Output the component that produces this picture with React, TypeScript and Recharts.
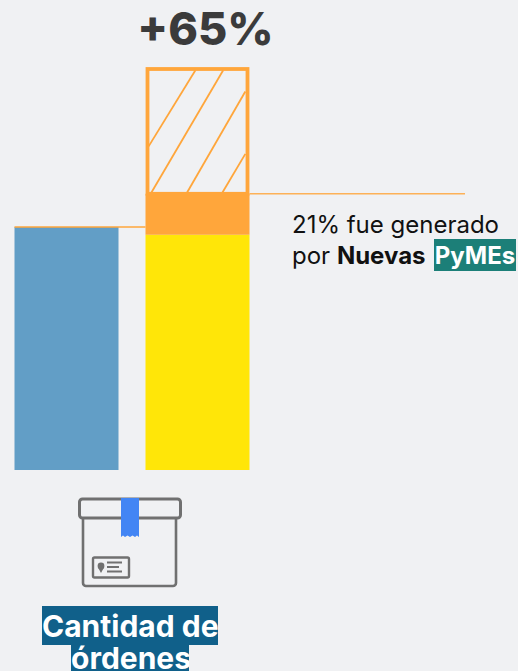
import { Bar, BarChart, LabelList, XAxis, YAxis } from "recharts"

const categories = ["Antes", "Después"]
const previousOrders = [100, null]
const currentOrders = [null, 96.75]
const newSmeOrders = [null, 16.9]
const remainingGrowth = [null, 51.35]
const growthLabels = [null, "+65%"]

const data = categories.map((name, i) => ({
  name,
  previous: previousOrders[i],
  current: currentOrders[i],
  newSme: newSmeOrders[i],
  growth: remainingGrowth[i],
  growthLabel: growthLabels[i],
}))

const BLUE = "#629EC6"
const YELLOW = "#FFE608"
const ORANGE = "#FFA63B"
const FONT = "Inter, 'Open Sans', sans-serif"

// diagonal strokes inside the hatched box, as fractions of its width and height
const hatchLines = [
  [0.03, 0.62, 0.48, 0.01],
  [0.05, 1, 0.747, 0.01],
  [0.4, 0.99, 0.96, 0.18],
  [0.74, 0.99, 0.96, 0.68],
]

function PreviousBar({ x, y, width, height }: any) {
  if (!(height > 0)) return null
  return (
    <g>
      <rect x={x} y={y} width={width} height={height} fill={BLUE} />
      <line x1={x} x2={x + 131} y1={y} y2={y} stroke={ORANGE} strokeWidth={1.5} />
    </g>
  )
}

function GrowthBar({ x, y, width, height }: any) {
  if (!(height > 0)) return null
  return (
    <g>
      {hatchLines.map(([x1, y1, x2, y2], i) => (
        <line
          key={i}
          x1={x + x1 * width}
          y1={y + y1 * height}
          x2={x + x2 * width}
          y2={y + y2 * height}
          stroke={ORANGE}
          strokeWidth={1.8}
        />
      ))}
      <rect x={x + 2} y={y} width={width - 4} height={height} fill="none" stroke={ORANGE} strokeWidth={3.8} />
      <line x1={x + width} x2={465} y1={y + height} y2={y + height} stroke={ORANGE} strokeOpacity={0.85} strokeWidth={1.5} />
    </g>
  )
}

function BoxIcon() {
  return (
    <svg
      width={110}
      height={96}
      viewBox="0 0 110 96"
      style={{ position: "absolute", left: 75, top: 495 }}
      fill="none"
      stroke="#707070"
    >
      <path d="M8 23 V88 a3 3 0 0 0 3 3 H98 a3 3 0 0 0 3 -3 V23" strokeWidth={2.6} />
      <rect x={4.5} y={4} width={101} height={19} rx={3} strokeWidth={3} />
      <path d="M46 3 H64 V42 l-2 -1.5 -2 1.5 -2.5 -1.5 -2.5 1.5 -2.5 -1.5 -2.5 1.5 -2 -1.5 -2 1.5 Z" fill="#4285F4" stroke="none" />
      <rect x={18} y={62.5} width={36} height={20} rx={1.5} strokeWidth={2.4} />
      <circle cx={26} cy={71} r={3.4} fill="#707070" stroke="none" />
      <path d="M23 72.5 L26 78 L29 72.5 Z" fill="#707070" stroke="none" />
      <path d="M32 67.5 H47 M32 72 H44 M32 76.5 H47" strokeWidth={1.9} />
    </svg>
  )
}

const boldLabel = {
  position: "absolute",
  color: "#fff",
  background: "#10608A",
  fontFamily: FONT,
  fontWeight: 700,
  fontSize: 30,
  textAlign: "center",
  overflow: "hidden",
  whiteSpace: "nowrap",
} as const

const noteLine = {
  position: "absolute",
  left: 292,
  fontFamily: FONT,
  fontSize: 24,
  lineHeight: "30px",
  color: "#111",
  whiteSpace: "nowrap",
} as const

export default function App() {
  return (
    <div style={{ position: "absolute", left: 0, top: 0, width: 518, height: 671, background: "#F0F1F3", overflow: "hidden" }}>
      <BarChart
        width={518}
        height={671}
        data={data}
        barSize={104}
        margin={{ top: 69, right: 255.5, bottom: 201, left: 0.5 }}
        style={{ position: "absolute", left: 0, top: 0 }}
      >
        <XAxis dataKey="name" hide />
        <YAxis hide domain={[0, 165]} />
        <Bar dataKey="previous" stackId="orders" shape={<PreviousBar />} isAnimationActive={false} />
        <Bar dataKey="current" stackId="orders" fill={YELLOW} isAnimationActive={false} />
        <Bar dataKey="newSme" stackId="orders" fill={ORANGE} isAnimationActive={false} />
        <Bar dataKey="growth" stackId="orders" shape={<GrowthBar />} isAnimationActive={false}>
          <LabelList
            dataKey="growthLabel"
            position="top"
            offset={24}
            dx={8}
            style={{ fontFamily: FONT, fontWeight: 800, fontSize: 45, fill: "#3B3B3B" }}
          />
        </Bar>
      </BarChart>

      <div style={{ ...noteLine, top: 210 }}>21% fue generado</div>
      <div style={{ ...noteLine, top: 241 }}>
        por <b>Nuevas</b>
      </div>
      <div style={{ position: "absolute", left: 434, top: 239, width: 82, height: 32, background: "#1C7F78", color: "#fff", fontFamily: FONT, fontWeight: 700, fontSize: 24, lineHeight: "34px", textAlign: "center", whiteSpace: "nowrap", overflow: "hidden" }}>
        PyMEs
      </div>

      <BoxIcon />

      <div style={{ ...boldLabel, left: 42, top: 606, width: 176, height: 39, lineHeight: "41px" }}>Cantidad de</div>
      <div style={{ ...boldLabel, left: 71, top: 645, width: 118, height: 26, lineHeight: "26px" }}>órdenes</div>
    </div>
  )
}
